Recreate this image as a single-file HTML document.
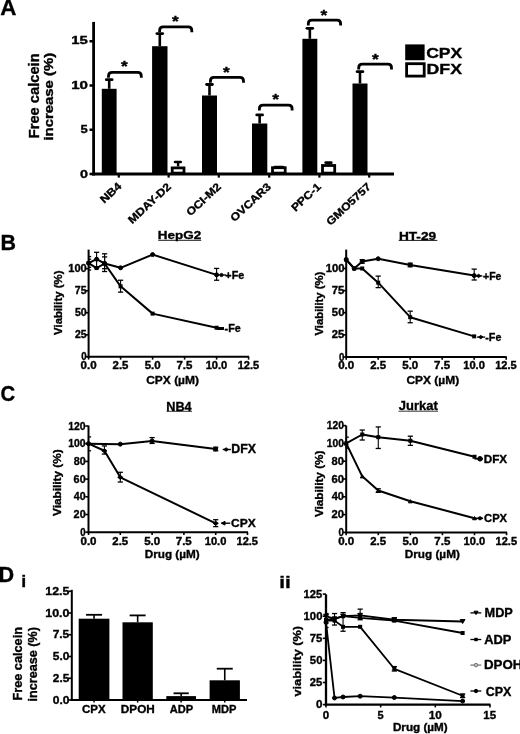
<!DOCTYPE html><html><head><meta charset="utf-8"><style>html,body{margin:0;padding:0;background:#fff;overflow:hidden}svg{display:block;will-change:transform}text{font-family:"Liberation Sans",sans-serif;font-weight:bold;fill:#000}</style></head><body><svg width="520" height="734" viewBox="0 0 520 734"><rect width="520" height="734" fill="#fff"/><g stroke="#000" fill="#000"><text stroke-width="0.35" transform="translate(0.14,14.50) scale(0.997,1)" font-size="22.46">A</text>
<line x1="93.60" y1="21.90" x2="93.60" y2="175.50" stroke-width="2.8" stroke-linecap="butt"/>
<line x1="92.20" y1="174.00" x2="394.00" y2="174.00" stroke-width="2.9" stroke-linecap="butt"/>
<line x1="89.50" y1="41.25" x2="93.00" y2="41.25" stroke-width="2.5" stroke-linecap="butt"/>
<line x1="89.50" y1="85.50" x2="93.00" y2="85.50" stroke-width="2.5" stroke-linecap="butt"/>
<line x1="89.50" y1="129.75" x2="93.00" y2="129.75" stroke-width="2.5" stroke-linecap="butt"/>
<line x1="89.50" y1="174.00" x2="93.00" y2="174.00" stroke-width="2.5" stroke-linecap="butt"/>
<text stroke-width="0.35" transform="translate(71.23,44.19) scale(1.355,1)" font-size="11.00">15</text>
<text stroke-width="0.35" transform="translate(71.22,88.50) scale(1.451,1)" font-size="10.42">10</text>
<text stroke-width="0.35" transform="translate(80.51,133.29) scale(1.167,1)" font-size="11.14">5</text>
<text stroke-width="0.35" transform="translate(80.03,177.98) scale(1.240,1)" font-size="11.55">0</text>
<text stroke-width="0.35" transform="translate(38.56,138.26) rotate(-90) scale(1.029,1)" font-size="14.29">Free calcein</text>
<text stroke-width="0.35" transform="translate(53.38,140.54) rotate(-90) scale(1.243,1)" font-size="11.98">increase (%)</text>
<line x1="118.80" y1="174.00" x2="118.80" y2="177.60" stroke-width="2.2" stroke-linecap="butt"/>
<line x1="168.60" y1="174.00" x2="168.60" y2="177.60" stroke-width="2.2" stroke-linecap="butt"/>
<line x1="218.80" y1="174.00" x2="218.80" y2="177.60" stroke-width="2.2" stroke-linecap="butt"/>
<line x1="269.20" y1="174.00" x2="269.20" y2="177.60" stroke-width="2.2" stroke-linecap="butt"/>
<line x1="319.40" y1="174.00" x2="319.40" y2="177.60" stroke-width="2.2" stroke-linecap="butt"/>
<line x1="369.20" y1="174.00" x2="369.20" y2="177.60" stroke-width="2.2" stroke-linecap="butt"/>
<rect x="101.80" y="88.80" width="14.80" height="85.20" fill="#000" stroke="none"/>
<line x1="109.20" y1="88.80" x2="109.20" y2="79.70" stroke-width="2.6" stroke-linecap="butt"/>
<line x1="106.30" y1="79.70" x2="112.10" y2="79.70" stroke-width="2.8" stroke-linecap="round"/>
<rect x="152.10" y="46.20" width="15.40" height="127.80" fill="#000" stroke="none"/>
<line x1="159.80" y1="46.20" x2="159.80" y2="33.60" stroke-width="2.6" stroke-linecap="butt"/>
<line x1="156.90" y1="33.60" x2="162.70" y2="33.60" stroke-width="2.8" stroke-linecap="round"/>
<rect x="202.00" y="95.50" width="15.00" height="78.50" fill="#000" stroke="none"/>
<line x1="209.50" y1="95.50" x2="209.50" y2="84.50" stroke-width="2.6" stroke-linecap="butt"/>
<line x1="206.60" y1="84.50" x2="212.40" y2="84.50" stroke-width="2.8" stroke-linecap="round"/>
<rect x="252.00" y="123.50" width="15.30" height="50.50" fill="#000" stroke="none"/>
<line x1="259.65" y1="123.50" x2="259.65" y2="114.90" stroke-width="2.6" stroke-linecap="butt"/>
<line x1="256.75" y1="114.90" x2="262.55" y2="114.90" stroke-width="2.8" stroke-linecap="round"/>
<rect x="302.40" y="38.80" width="14.90" height="135.20" fill="#000" stroke="none"/>
<line x1="309.85" y1="38.80" x2="309.85" y2="28.30" stroke-width="2.6" stroke-linecap="butt"/>
<line x1="306.95" y1="28.30" x2="312.75" y2="28.30" stroke-width="2.8" stroke-linecap="round"/>
<rect x="352.50" y="83.50" width="15.00" height="90.50" fill="#000" stroke="none"/>
<line x1="360.00" y1="83.50" x2="360.00" y2="71.70" stroke-width="2.6" stroke-linecap="butt"/>
<line x1="357.10" y1="71.70" x2="362.90" y2="71.70" stroke-width="2.8" stroke-linecap="round"/>
<rect x="172.20" y="167.90" width="11.80" height="5.20" fill="#fff" stroke="#000" stroke-width="2.8"/>
<line x1="178.10" y1="166.50" x2="178.10" y2="162.00" stroke-width="2.4" stroke-linecap="butt"/>
<line x1="175.10" y1="162.00" x2="180.70" y2="162.00" stroke-width="2.7" stroke-linecap="round"/>
<rect x="272.50" y="167.70" width="12.70" height="5.40" fill="#fff" stroke="#000" stroke-width="2.8"/>
<line x1="278.85" y1="166.30" x2="278.85" y2="167.20" stroke-width="2.4" stroke-linecap="butt"/>
<line x1="274.90" y1="167.20" x2="282.90" y2="167.20" stroke-width="2.7" stroke-linecap="round"/>
<rect x="322.50" y="165.50" width="12.20" height="7.60" fill="#fff" stroke="#000" stroke-width="2.8"/>
<line x1="328.60" y1="164.10" x2="328.60" y2="162.70" stroke-width="2.4" stroke-linecap="butt"/>
<line x1="325.70" y1="162.70" x2="331.30" y2="162.70" stroke-width="2.7" stroke-linecap="round"/>
<path d="M108.50,77.70 V75.90 Q108.50,72.30 112.10,72.30 H137.70 Q141.30,72.30 141.30,75.90 V77.70" fill="none" stroke-width="2.8"/>
<text stroke-width="0.35" transform="translate(120.91,71.38) scale(1.213,1)" font-size="14.32">*</text>
<path d="M159.60,32.20 V30.40 Q159.60,26.80 163.20,26.80 H188.20 Q191.80,26.80 191.80,30.40 V32.20" fill="none" stroke-width="2.8"/>
<text stroke-width="0.35" transform="translate(172.11,26.38) scale(1.213,1)" font-size="14.32">*</text>
<path d="M210.40,82.70 V80.90 Q210.40,77.30 214.00,77.30 H239.90 Q243.50,77.30 243.50,80.90 V82.70" fill="none" stroke-width="2.8"/>
<text stroke-width="0.35" transform="translate(223.11,77.28) scale(1.213,1)" font-size="14.32">*</text>
<path d="M259.40,110.50 V108.70 Q259.40,105.10 263.00,105.10 H288.50 Q292.10,105.10 292.10,108.70 V110.50" fill="none" stroke-width="2.8"/>
<text stroke-width="0.35" transform="translate(272.31,104.48) scale(1.213,1)" font-size="14.32">*</text>
<path d="M308.30,25.60 V23.80 Q308.30,20.20 311.90,20.20 H337.00 Q340.60,20.20 340.60,23.80 V25.60" fill="none" stroke-width="2.8"/>
<text stroke-width="0.35" transform="translate(320.41,19.98) scale(1.213,1)" font-size="14.32">*</text>
<path d="M358.70,69.60 V67.80 Q358.70,64.20 362.30,64.20 H387.90 Q391.50,64.20 391.50,67.80 V69.60" fill="none" stroke-width="2.8"/>
<text stroke-width="0.35" transform="translate(371.91,63.78) scale(1.213,1)" font-size="14.32">*</text>
<rect x="405.20" y="44.40" width="19.40" height="15.80" fill="#000" stroke="none"/>
<rect x="406.60" y="63.70" width="17.60" height="12.40" fill="#fff" stroke="#000" stroke-width="2.8"/>
<text stroke-width="0.35" transform="translate(426.20,57.60) scale(1.249,1)" font-size="14.06">CPX</text>
<text stroke-width="0.35" transform="translate(426.55,74.20) scale(1.273,1)" font-size="13.91">DFX</text>
<text stroke-width="0.35" transform="translate(122.20,187.00) rotate(-43) scale(1.120,1)" font-size="10.90" text-anchor="end">NB4</text>
<text stroke-width="0.35" transform="translate(171.70,187.50) rotate(-43) scale(1.120,1)" font-size="10.90" text-anchor="end">MDAY-D2</text>
<text stroke-width="0.35" transform="translate(221.70,187.50) rotate(-43) scale(1.120,1)" font-size="10.90" text-anchor="end">OCI-M2</text>
<text stroke-width="0.35" transform="translate(271.70,187.50) rotate(-43) scale(1.120,1)" font-size="10.90" text-anchor="end">OVCAR3</text>
<text stroke-width="0.35" transform="translate(321.70,187.50) rotate(-43) scale(1.120,1)" font-size="10.90" text-anchor="end">PPC-1</text>
<text stroke-width="0.35" transform="translate(371.70,187.50) rotate(-43) scale(1.120,1)" font-size="10.90" text-anchor="end">GMO5757</text>
<text stroke-width="0.35" transform="translate(0.60,249.80) scale(0.981,1)" font-size="21.88">B</text>
<line x1="88.60" y1="249.60" x2="88.60" y2="357.80" stroke-width="2.0" stroke-linecap="butt"/>
<line x1="87.60" y1="356.80" x2="249.10" y2="356.80" stroke-width="2.0" stroke-linecap="butt"/>
<line x1="85.40" y1="356.80" x2="88.60" y2="356.80" stroke-width="1.6" stroke-linecap="butt"/>
<line x1="85.40" y1="334.78" x2="88.60" y2="334.78" stroke-width="1.6" stroke-linecap="butt"/>
<line x1="85.40" y1="312.75" x2="88.60" y2="312.75" stroke-width="1.6" stroke-linecap="butt"/>
<line x1="85.40" y1="290.73" x2="88.60" y2="290.73" stroke-width="1.6" stroke-linecap="butt"/>
<line x1="85.40" y1="268.70" x2="88.60" y2="268.70" stroke-width="1.6" stroke-linecap="butt"/>
<line x1="88.60" y1="356.80" x2="88.60" y2="359.60" stroke-width="1.6" stroke-linecap="butt"/>
<line x1="120.60" y1="356.80" x2="120.60" y2="359.60" stroke-width="1.6" stroke-linecap="butt"/>
<line x1="152.60" y1="356.80" x2="152.60" y2="359.60" stroke-width="1.6" stroke-linecap="butt"/>
<line x1="184.60" y1="356.80" x2="184.60" y2="359.60" stroke-width="1.6" stroke-linecap="butt"/>
<line x1="216.60" y1="356.80" x2="216.60" y2="359.60" stroke-width="1.6" stroke-linecap="butt"/>
<line x1="248.60" y1="356.80" x2="248.60" y2="359.60" stroke-width="1.6" stroke-linecap="butt"/>
<polyline points="88.60,263.06 96.60,259.19 104.60,263.50 120.60,267.82 152.60,254.60 216.60,274.87" fill="none" stroke-width="2.0" stroke-linejoin="round"/>
<circle cx="88.60" cy="263.06" r="2.00"/>
<circle cx="96.60" cy="259.19" r="2.00"/>
<circle cx="104.60" cy="263.50" r="2.00"/>
<circle cx="120.60" cy="267.82" r="2.00"/>
<circle cx="152.60" cy="254.60" r="2.00"/>
<circle cx="216.60" cy="274.87" r="2.00"/>
<polyline points="88.60,263.06 96.60,268.08 104.60,263.50 120.60,286.32 152.60,313.63 216.60,327.73" fill="none" stroke-width="2.0" stroke-linejoin="round"/>
<rect x="86.60" y="261.06" width="4.00" height="4.00" fill="#000" stroke="none"/>
<rect x="94.60" y="266.08" width="4.00" height="4.00" fill="#000" stroke="none"/>
<rect x="102.60" y="261.50" width="4.00" height="4.00" fill="#000" stroke="none"/>
<rect x="118.60" y="284.32" width="4.00" height="4.00" fill="#000" stroke="none"/>
<rect x="150.60" y="311.63" width="4.00" height="4.00" fill="#000" stroke="none"/>
<rect x="214.60" y="325.73" width="4.00" height="4.00" fill="#000" stroke="none"/>
<line x1="88.60" y1="256.54" x2="88.60" y2="270.02" stroke-width="1.1" stroke-linecap="butt"/>
<line x1="88.60" y1="256.54" x2="91.20" y2="256.54" stroke-width="1.3" stroke-linecap="butt"/>
<line x1="88.60" y1="270.02" x2="91.20" y2="270.02" stroke-width="1.3" stroke-linecap="butt"/>
<line x1="88.60" y1="259.19" x2="88.60" y2="267.29" stroke-width="1.1" stroke-linecap="butt"/>
<line x1="88.60" y1="259.19" x2="91.20" y2="259.19" stroke-width="1.3" stroke-linecap="butt"/>
<line x1="88.60" y1="267.29" x2="91.20" y2="267.29" stroke-width="1.3" stroke-linecap="butt"/>
<line x1="96.60" y1="252.31" x2="96.60" y2="268.00" stroke-width="1.1" stroke-linecap="butt"/>
<line x1="94.00" y1="252.31" x2="99.20" y2="252.31" stroke-width="1.3" stroke-linecap="butt"/>
<line x1="94.00" y1="268.00" x2="99.20" y2="268.00" stroke-width="1.3" stroke-linecap="butt"/>
<line x1="104.60" y1="253.81" x2="104.60" y2="271.52" stroke-width="1.1" stroke-linecap="butt"/>
<line x1="102.00" y1="253.81" x2="107.20" y2="253.81" stroke-width="1.3" stroke-linecap="butt"/>
<line x1="102.00" y1="271.52" x2="107.20" y2="271.52" stroke-width="1.3" stroke-linecap="butt"/>
<line x1="104.60" y1="256.89" x2="104.60" y2="268.70" stroke-width="1.1" stroke-linecap="butt"/>
<line x1="102.00" y1="256.89" x2="107.20" y2="256.89" stroke-width="1.3" stroke-linecap="butt"/>
<line x1="102.00" y1="268.70" x2="107.20" y2="268.70" stroke-width="1.3" stroke-linecap="butt"/>
<line x1="120.60" y1="280.24" x2="120.60" y2="292.13" stroke-width="1.1" stroke-linecap="butt"/>
<line x1="118.00" y1="280.24" x2="123.20" y2="280.24" stroke-width="1.3" stroke-linecap="butt"/>
<line x1="118.00" y1="292.13" x2="123.20" y2="292.13" stroke-width="1.3" stroke-linecap="butt"/>
<line x1="216.60" y1="268.44" x2="216.60" y2="280.24" stroke-width="1.1" stroke-linecap="butt"/>
<line x1="214.00" y1="268.44" x2="219.20" y2="268.44" stroke-width="1.3" stroke-linecap="butt"/>
<line x1="214.00" y1="280.24" x2="219.20" y2="280.24" stroke-width="1.3" stroke-linecap="butt"/>
<line x1="216.30" y1="275.00" x2="226.00" y2="275.00" stroke-width="1.3" stroke-linecap="butt"/>
<circle cx="221.50" cy="275.00" r="1.60"/>
<line x1="216.30" y1="328.50" x2="224.00" y2="328.50" stroke-width="1.6" stroke-linecap="butt"/>
<rect x="217.00" y="327.00" width="7.00" height="3.00" fill="#000" stroke="none"/>
<text stroke-width="0.35" transform="translate(225.37,278.90) scale(1.059,1)" font-size="10.14">+Fe</text>
<text stroke-width="0.35" transform="translate(224.57,332.40) scale(0.981,1)" font-size="11.01">-Fe</text>
<text stroke-width="0.35" transform="translate(157.82,239.40) scale(1.178,1)" font-size="11.45">HepG2</text>
<line x1="158.20" y1="240.30" x2="201.20" y2="240.30" stroke-width="0.9" stroke-linecap="butt"/>
<text stroke-width="0.35" transform="translate(61.96,334.91) rotate(-90) scale(1.026,1)" font-size="11.12">Viability (%)</text>
<text stroke-width="0.35" transform="translate(68.28,272.20) scale(1.093,1)" font-size="10.14">100</text>
<text stroke-width="0.35" transform="translate(74.82,294.23) scale(1.043,1)" font-size="10.14">75</text>
<text stroke-width="0.35" transform="translate(74.98,316.25) scale(1.043,1)" font-size="10.14">50</text>
<text stroke-width="0.35" transform="translate(74.93,338.28) scale(1.033,1)" font-size="10.14">25</text>
<text stroke-width="0.35" transform="translate(81.31,360.30) scale(0.955,1)" font-size="10.14">0</text>
<text stroke-width="0.35" transform="translate(80.54,369.20) scale(1.160,1)" font-size="10.00">0.0</text>
<text stroke-width="0.35" transform="translate(112.60,369.20) scale(1.143,1)" font-size="10.00">2.5</text>
<text stroke-width="0.35" transform="translate(144.65,369.20) scale(1.152,1)" font-size="10.00">5.0</text>
<text stroke-width="0.35" transform="translate(176.48,369.20) scale(1.152,1)" font-size="10.00">7.5</text>
<text stroke-width="0.35" transform="translate(205.63,369.20) scale(1.114,1)" font-size="10.00">10.0</text>
<text stroke-width="0.35" transform="translate(237.63,369.20) scale(1.105,1)" font-size="10.00">12.5</text>
<text stroke-width="0.35" transform="translate(146.22,383.80) scale(1.034,1)" font-size="11.59">CPX (µM)</text>
<line x1="346.20" y1="249.60" x2="346.20" y2="358.00" stroke-width="2.0" stroke-linecap="butt"/>
<line x1="345.20" y1="357.00" x2="506.70" y2="357.00" stroke-width="2.0" stroke-linecap="butt"/>
<line x1="343.00" y1="357.00" x2="346.20" y2="357.00" stroke-width="1.6" stroke-linecap="butt"/>
<line x1="343.00" y1="334.88" x2="346.20" y2="334.88" stroke-width="1.6" stroke-linecap="butt"/>
<line x1="343.00" y1="312.75" x2="346.20" y2="312.75" stroke-width="1.6" stroke-linecap="butt"/>
<line x1="343.00" y1="290.62" x2="346.20" y2="290.62" stroke-width="1.6" stroke-linecap="butt"/>
<line x1="343.00" y1="268.50" x2="346.20" y2="268.50" stroke-width="1.6" stroke-linecap="butt"/>
<line x1="346.20" y1="357.00" x2="346.20" y2="359.80" stroke-width="1.6" stroke-linecap="butt"/>
<line x1="378.20" y1="357.00" x2="378.20" y2="359.80" stroke-width="1.6" stroke-linecap="butt"/>
<line x1="410.20" y1="357.00" x2="410.20" y2="359.80" stroke-width="1.6" stroke-linecap="butt"/>
<line x1="442.20" y1="357.00" x2="442.20" y2="359.80" stroke-width="1.6" stroke-linecap="butt"/>
<line x1="474.20" y1="357.00" x2="474.20" y2="359.80" stroke-width="1.6" stroke-linecap="butt"/>
<line x1="506.20" y1="357.00" x2="506.20" y2="359.80" stroke-width="1.6" stroke-linecap="butt"/>
<polyline points="346.20,259.65 354.20,268.50 362.20,261.42 378.20,258.76 410.20,264.96 474.20,275.58" fill="none" stroke-width="2.0" stroke-linejoin="round"/>
<circle cx="346.20" cy="259.65" r="2.00"/>
<circle cx="354.20" cy="268.50" r="2.00"/>
<circle cx="362.20" cy="261.42" r="2.00"/>
<circle cx="378.20" cy="258.76" r="2.00"/>
<circle cx="410.20" cy="264.96" r="2.00"/>
<circle cx="474.20" cy="275.58" r="2.00"/>
<polyline points="346.20,259.65 354.20,268.50 362.20,268.50 378.20,282.66 410.20,317.18 474.20,336.38" fill="none" stroke-width="2.0" stroke-linejoin="round"/>
<rect x="344.20" y="257.65" width="4.00" height="4.00" fill="#000" stroke="none"/>
<rect x="352.20" y="266.50" width="4.00" height="4.00" fill="#000" stroke="none"/>
<rect x="360.20" y="266.50" width="4.00" height="4.00" fill="#000" stroke="none"/>
<rect x="376.20" y="280.66" width="4.00" height="4.00" fill="#000" stroke="none"/>
<rect x="408.20" y="315.18" width="4.00" height="4.00" fill="#000" stroke="none"/>
<rect x="472.20" y="334.38" width="4.00" height="4.00" fill="#000" stroke="none"/>
<line x1="378.20" y1="276.11" x2="378.20" y2="287.62" stroke-width="1.1" stroke-linecap="butt"/>
<line x1="375.60" y1="276.11" x2="380.80" y2="276.11" stroke-width="1.3" stroke-linecap="butt"/>
<line x1="375.60" y1="287.62" x2="380.80" y2="287.62" stroke-width="1.3" stroke-linecap="butt"/>
<line x1="410.20" y1="311.16" x2="410.20" y2="322.75" stroke-width="1.1" stroke-linecap="butt"/>
<line x1="407.60" y1="311.16" x2="412.80" y2="311.16" stroke-width="1.3" stroke-linecap="butt"/>
<line x1="407.60" y1="322.75" x2="412.80" y2="322.75" stroke-width="1.3" stroke-linecap="butt"/>
<line x1="474.20" y1="269.12" x2="474.20" y2="280.00" stroke-width="1.1" stroke-linecap="butt"/>
<line x1="471.60" y1="269.12" x2="476.80" y2="269.12" stroke-width="1.3" stroke-linecap="butt"/>
<line x1="471.60" y1="280.00" x2="476.80" y2="280.00" stroke-width="1.3" stroke-linecap="butt"/>
<line x1="410.20" y1="263.19" x2="410.20" y2="266.73" stroke-width="1.1" stroke-linecap="butt"/>
<line x1="407.60" y1="263.19" x2="412.80" y2="263.19" stroke-width="1.3" stroke-linecap="butt"/>
<line x1="407.60" y1="266.73" x2="412.80" y2="266.73" stroke-width="1.3" stroke-linecap="butt"/>
<line x1="362.20" y1="259.65" x2="362.20" y2="263.19" stroke-width="1.1" stroke-linecap="butt"/>
<line x1="359.60" y1="259.65" x2="364.80" y2="259.65" stroke-width="1.3" stroke-linecap="butt"/>
<line x1="359.60" y1="263.19" x2="364.80" y2="263.19" stroke-width="1.3" stroke-linecap="butt"/>
<line x1="474.20" y1="275.90" x2="482.40" y2="275.90" stroke-width="1.3" stroke-linecap="butt"/>
<path d="M476.39,275.90 L478.60,274.20 L480.81,275.90 L478.60,277.60Z"/>
<line x1="477.00" y1="337.10" x2="485.20" y2="337.10" stroke-width="1.3" stroke-linecap="butt"/>
<path d="M478.59,337.10 L480.80,335.40 L483.01,337.10 L480.80,338.80Z"/>
<text stroke-width="0.35" transform="translate(483.08,279.70) scale(1.045,1)" font-size="10.00">+Fe</text>
<text stroke-width="0.35" transform="translate(485.27,340.70) scale(0.975,1)" font-size="11.01">-Fe</text>
<text stroke-width="0.35" transform="translate(398.91,239.80) scale(1.241,1)" font-size="11.01">HT-29</text>
<line x1="398.70" y1="240.40" x2="437.30" y2="240.40" stroke-width="0.9" stroke-linecap="butt"/>
<text stroke-width="0.35" transform="translate(323.09,335.51) rotate(-90) scale(1.026,1)" font-size="11.02">Viability (%)</text>
<text stroke-width="0.35" transform="translate(325.67,272.00) scale(1.112,1)" font-size="10.14">100</text>
<text stroke-width="0.35" transform="translate(331.69,294.12) scale(1.118,1)" font-size="10.14">75</text>
<text stroke-width="0.35" transform="translate(331.86,316.25) scale(1.118,1)" font-size="10.14">50</text>
<text stroke-width="0.35" transform="translate(331.81,338.38) scale(1.108,1)" font-size="10.14">25</text>
<text stroke-width="0.35" transform="translate(339.01,360.50) scale(0.955,1)" font-size="10.14">0</text>
<text stroke-width="0.35" transform="translate(338.14,369.20) scale(1.160,1)" font-size="10.00">0.0</text>
<text stroke-width="0.35" transform="translate(370.20,369.20) scale(1.143,1)" font-size="10.00">2.5</text>
<text stroke-width="0.35" transform="translate(402.25,369.20) scale(1.152,1)" font-size="10.00">5.0</text>
<text stroke-width="0.35" transform="translate(434.08,369.20) scale(1.152,1)" font-size="10.00">7.5</text>
<text stroke-width="0.35" transform="translate(463.23,369.20) scale(1.114,1)" font-size="10.00">10.0</text>
<text stroke-width="0.35" transform="translate(495.23,369.20) scale(1.105,1)" font-size="10.00">12.5</text>
<text stroke-width="0.35" transform="translate(406.42,383.90) scale(1.032,1)" font-size="11.59">CPX (µM)</text>
<text stroke-width="0.35" transform="translate(0.59,400.58) scale(0.907,1)" font-size="22.39">C</text>
<line x1="88.50" y1="425.60" x2="88.50" y2="533.20" stroke-width="2.0" stroke-linecap="butt"/>
<line x1="87.50" y1="532.20" x2="248.00" y2="532.20" stroke-width="2.0" stroke-linecap="butt"/>
<line x1="85.30" y1="532.20" x2="88.50" y2="532.20" stroke-width="1.6" stroke-linecap="butt"/>
<line x1="85.30" y1="514.50" x2="88.50" y2="514.50" stroke-width="1.6" stroke-linecap="butt"/>
<line x1="85.30" y1="496.80" x2="88.50" y2="496.80" stroke-width="1.6" stroke-linecap="butt"/>
<line x1="85.30" y1="479.10" x2="88.50" y2="479.10" stroke-width="1.6" stroke-linecap="butt"/>
<line x1="85.30" y1="461.40" x2="88.50" y2="461.40" stroke-width="1.6" stroke-linecap="butt"/>
<line x1="85.30" y1="443.70" x2="88.50" y2="443.70" stroke-width="1.6" stroke-linecap="butt"/>
<line x1="85.30" y1="426.00" x2="88.50" y2="426.00" stroke-width="1.6" stroke-linecap="butt"/>
<line x1="88.50" y1="532.20" x2="88.50" y2="535.00" stroke-width="1.6" stroke-linecap="butt"/>
<line x1="120.30" y1="532.20" x2="120.30" y2="535.00" stroke-width="1.6" stroke-linecap="butt"/>
<line x1="152.10" y1="532.20" x2="152.10" y2="535.00" stroke-width="1.6" stroke-linecap="butt"/>
<line x1="183.90" y1="532.20" x2="183.90" y2="535.00" stroke-width="1.6" stroke-linecap="butt"/>
<line x1="215.70" y1="532.20" x2="215.70" y2="535.00" stroke-width="1.6" stroke-linecap="butt"/>
<line x1="247.50" y1="532.20" x2="247.50" y2="535.00" stroke-width="1.6" stroke-linecap="butt"/>
<polyline points="88.50,443.70 120.30,444.14 152.10,441.05 215.70,449.01" fill="none" stroke-width="2.0" stroke-linejoin="round"/>
<circle cx="88.50" cy="443.70" r="2.00"/>
<circle cx="120.30" cy="444.14" r="2.00"/>
<circle cx="152.10" cy="441.05" r="2.00"/>
<circle cx="215.70" cy="449.01" r="2.00"/>
<polyline points="88.50,443.70 104.40,450.78 120.30,477.33 215.70,523.35" fill="none" stroke-width="2.0" stroke-linejoin="round"/>
<path d="M85.90,443.70 L88.50,441.70 L91.10,443.70 L88.50,445.70Z"/>
<path d="M101.80,450.78 L104.40,448.78 L107.00,450.78 L104.40,452.78Z"/>
<path d="M117.70,477.33 L120.30,475.33 L122.90,477.33 L120.30,479.33Z"/>
<path d="M213.10,523.35 L215.70,521.35 L218.30,523.35 L215.70,525.35Z"/>
<line x1="88.50" y1="436.89" x2="88.50" y2="450.78" stroke-width="1.1" stroke-linecap="butt"/>
<line x1="88.50" y1="436.89" x2="91.10" y2="436.89" stroke-width="1.3" stroke-linecap="butt"/>
<line x1="88.50" y1="450.78" x2="91.10" y2="450.78" stroke-width="1.3" stroke-linecap="butt"/>
<line x1="104.40" y1="445.91" x2="104.40" y2="454.05" stroke-width="1.1" stroke-linecap="butt"/>
<line x1="101.80" y1="445.91" x2="107.00" y2="445.91" stroke-width="1.3" stroke-linecap="butt"/>
<line x1="101.80" y1="454.05" x2="107.00" y2="454.05" stroke-width="1.3" stroke-linecap="butt"/>
<line x1="120.30" y1="472.29" x2="120.30" y2="482.02" stroke-width="1.1" stroke-linecap="butt"/>
<line x1="117.70" y1="472.29" x2="122.90" y2="472.29" stroke-width="1.3" stroke-linecap="butt"/>
<line x1="117.70" y1="482.02" x2="122.90" y2="482.02" stroke-width="1.3" stroke-linecap="butt"/>
<line x1="152.10" y1="437.59" x2="152.10" y2="443.43" stroke-width="1.1" stroke-linecap="butt"/>
<line x1="149.50" y1="437.59" x2="154.70" y2="437.59" stroke-width="1.3" stroke-linecap="butt"/>
<line x1="149.50" y1="443.43" x2="154.70" y2="443.43" stroke-width="1.3" stroke-linecap="butt"/>
<line x1="215.70" y1="519.72" x2="215.70" y2="526.62" stroke-width="1.1" stroke-linecap="butt"/>
<line x1="213.10" y1="519.72" x2="218.30" y2="519.72" stroke-width="1.3" stroke-linecap="butt"/>
<line x1="213.10" y1="526.62" x2="218.30" y2="526.62" stroke-width="1.3" stroke-linecap="butt"/>
<line x1="215.70" y1="447.24" x2="215.70" y2="450.78" stroke-width="1.1" stroke-linecap="butt"/>
<line x1="213.10" y1="447.24" x2="218.30" y2="447.24" stroke-width="1.3" stroke-linecap="butt"/>
<line x1="213.10" y1="450.78" x2="218.30" y2="450.78" stroke-width="1.3" stroke-linecap="butt"/>
<line x1="222.70" y1="449.50" x2="230.90" y2="449.50" stroke-width="1.4" stroke-linecap="butt"/>
<path d="M223.89,449.50 L226.10,447.80 L228.31,449.50 L226.10,451.20Z"/>
<line x1="221.30" y1="523.20" x2="230.20" y2="523.20" stroke-width="1.4" stroke-linecap="butt"/>
<path d="M221.3,523.2 L225,521.3 L225,525.1Z"/>
<text stroke-width="0.35" transform="translate(231.29,452.80) scale(1.032,1)" font-size="12.03">DFX</text>
<text stroke-width="0.35" transform="translate(231.02,527.30) scale(1.037,1)" font-size="11.59">CPX</text>
<text stroke-width="0.35" transform="translate(166.27,410.80) scale(0.932,1)" font-size="13.62">NB4</text>
<line x1="166.60" y1="411.30" x2="192.00" y2="411.30" stroke-width="0.8" stroke-linecap="butt"/>
<text stroke-width="0.35" transform="translate(61.40,515.92) rotate(-90) scale(1.126,1)" font-size="10.48">Viability (%)</text>
<text stroke-width="0.35" transform="translate(80.21,535.80) scale(0.928,1)" font-size="10.43">0</text>
<text stroke-width="0.35" transform="translate(73.62,518.10) scale(1.037,1)" font-size="10.43">20</text>
<text stroke-width="0.35" transform="translate(73.84,500.40) scale(1.017,1)" font-size="10.43">40</text>
<text stroke-width="0.35" transform="translate(73.62,482.70) scale(1.037,1)" font-size="10.43">60</text>
<text stroke-width="0.35" transform="translate(73.68,465.00) scale(1.032,1)" font-size="10.43">80</text>
<text stroke-width="0.35" transform="translate(68.22,447.30) scale(1.001,1)" font-size="10.43">100</text>
<text stroke-width="0.35" transform="translate(68.22,429.60) scale(1.001,1)" font-size="10.43">120</text>
<text stroke-width="0.35" transform="translate(80.44,544.60) scale(1.160,1)" font-size="10.00">0.0</text>
<text stroke-width="0.35" transform="translate(112.30,544.60) scale(1.143,1)" font-size="10.00">2.5</text>
<text stroke-width="0.35" transform="translate(144.15,544.60) scale(1.152,1)" font-size="10.00">5.0</text>
<text stroke-width="0.35" transform="translate(175.78,544.60) scale(1.152,1)" font-size="10.00">7.5</text>
<text stroke-width="0.35" transform="translate(204.73,544.60) scale(1.114,1)" font-size="10.00">10.0</text>
<text stroke-width="0.35" transform="translate(236.53,544.60) scale(1.105,1)" font-size="10.00">12.5</text>
<text stroke-width="0.35" transform="translate(144.64,558.20) scale(1.002,1)" font-size="11.74">Drug (µM)</text>
<line x1="346.20" y1="425.60" x2="346.20" y2="533.40" stroke-width="2.0" stroke-linecap="butt"/>
<line x1="345.20" y1="532.40" x2="507.07" y2="532.40" stroke-width="2.0" stroke-linecap="butt"/>
<line x1="343.00" y1="532.40" x2="346.20" y2="532.40" stroke-width="1.6" stroke-linecap="butt"/>
<line x1="343.00" y1="514.60" x2="346.20" y2="514.60" stroke-width="1.6" stroke-linecap="butt"/>
<line x1="343.00" y1="496.80" x2="346.20" y2="496.80" stroke-width="1.6" stroke-linecap="butt"/>
<line x1="343.00" y1="479.00" x2="346.20" y2="479.00" stroke-width="1.6" stroke-linecap="butt"/>
<line x1="343.00" y1="461.20" x2="346.20" y2="461.20" stroke-width="1.6" stroke-linecap="butt"/>
<line x1="343.00" y1="443.40" x2="346.20" y2="443.40" stroke-width="1.6" stroke-linecap="butt"/>
<line x1="343.00" y1="425.60" x2="346.20" y2="425.60" stroke-width="1.6" stroke-linecap="butt"/>
<line x1="346.20" y1="532.40" x2="346.20" y2="535.20" stroke-width="1.6" stroke-linecap="butt"/>
<line x1="378.27" y1="532.40" x2="378.27" y2="535.20" stroke-width="1.6" stroke-linecap="butt"/>
<line x1="410.35" y1="532.40" x2="410.35" y2="535.20" stroke-width="1.6" stroke-linecap="butt"/>
<line x1="442.42" y1="532.40" x2="442.42" y2="535.20" stroke-width="1.6" stroke-linecap="butt"/>
<line x1="474.50" y1="532.40" x2="474.50" y2="535.20" stroke-width="1.6" stroke-linecap="butt"/>
<line x1="506.57" y1="532.40" x2="506.57" y2="535.20" stroke-width="1.6" stroke-linecap="butt"/>
<polyline points="346.20,443.40 362.24,434.50 378.27,437.17 410.35,440.73 474.50,456.75" fill="none" stroke-width="2.0" stroke-linejoin="round"/>
<rect x="344.20" y="441.40" width="4.00" height="4.00" fill="#000" stroke="none"/>
<rect x="360.24" y="432.50" width="4.00" height="4.00" fill="#000" stroke="none"/>
<rect x="376.27" y="435.17" width="4.00" height="4.00" fill="#000" stroke="none"/>
<rect x="408.35" y="438.73" width="4.00" height="4.00" fill="#000" stroke="none"/>
<rect x="472.50" y="454.75" width="4.00" height="4.00" fill="#000" stroke="none"/>
<polyline points="346.20,443.40 362.24,476.33 378.27,490.57 410.35,501.25 474.50,518.16" fill="none" stroke-width="2.0" stroke-linejoin="round"/>
<path d="M344.28,445.00 L348.12,445.00 L346.20,441.80Z"/>
<path d="M360.32,477.93 L364.16,477.93 L362.24,474.73Z"/>
<path d="M376.35,492.17 L380.19,492.17 L378.27,488.97Z"/>
<path d="M408.43,502.85 L412.27,502.85 L410.35,499.65Z"/>
<path d="M472.58,519.76 L476.42,519.76 L474.50,516.56Z"/>
<line x1="346.20" y1="437.17" x2="346.20" y2="448.21" stroke-width="1.1" stroke-linecap="butt"/>
<line x1="346.20" y1="437.17" x2="348.80" y2="437.17" stroke-width="1.3" stroke-linecap="butt"/>
<line x1="346.20" y1="448.21" x2="348.80" y2="448.21" stroke-width="1.3" stroke-linecap="butt"/>
<line x1="362.24" y1="430.05" x2="362.24" y2="440.02" stroke-width="1.1" stroke-linecap="butt"/>
<line x1="359.64" y1="430.05" x2="364.84" y2="430.05" stroke-width="1.3" stroke-linecap="butt"/>
<line x1="359.64" y1="440.02" x2="364.84" y2="440.02" stroke-width="1.3" stroke-linecap="butt"/>
<line x1="378.27" y1="426.93" x2="378.27" y2="448.47" stroke-width="1.1" stroke-linecap="butt"/>
<line x1="375.67" y1="426.93" x2="380.88" y2="426.93" stroke-width="1.3" stroke-linecap="butt"/>
<line x1="375.67" y1="448.47" x2="380.88" y2="448.47" stroke-width="1.3" stroke-linecap="butt"/>
<line x1="410.35" y1="436.19" x2="410.35" y2="445.36" stroke-width="1.1" stroke-linecap="butt"/>
<line x1="407.75" y1="436.19" x2="412.95" y2="436.19" stroke-width="1.3" stroke-linecap="butt"/>
<line x1="407.75" y1="445.36" x2="412.95" y2="445.36" stroke-width="1.3" stroke-linecap="butt"/>
<line x1="378.27" y1="488.79" x2="378.27" y2="492.35" stroke-width="1.1" stroke-linecap="butt"/>
<line x1="375.67" y1="488.79" x2="380.88" y2="488.79" stroke-width="1.3" stroke-linecap="butt"/>
<line x1="375.67" y1="492.35" x2="380.88" y2="492.35" stroke-width="1.3" stroke-linecap="butt"/>
<line x1="474.50" y1="458.80" x2="483.00" y2="458.80" stroke-width="1.6" stroke-linecap="butt"/>
<circle cx="480.00" cy="458.80" r="2.30"/>
<line x1="474.50" y1="518.30" x2="483.00" y2="518.30" stroke-width="1.6" stroke-linecap="butt"/>
<circle cx="480.00" cy="518.30" r="1.60"/>
<text stroke-width="0.35" transform="translate(483.74,463.00) scale(1.075,1)" font-size="10.87">DFX</text>
<text stroke-width="0.35" transform="translate(484.05,522.00) scale(1.046,1)" font-size="10.72">CPX</text>
<text stroke-width="0.35" transform="translate(398.81,410.37) scale(1.004,1)" font-size="12.93">Jurkat</text>
<line x1="398.50" y1="411.20" x2="438.00" y2="411.20" stroke-width="0.8" stroke-linecap="butt"/>
<text stroke-width="0.35" transform="translate(322.99,517.12) rotate(-90) scale(1.072,1)" font-size="11.02">Viability (%)</text>
<text stroke-width="0.35" transform="translate(338.51,536.00) scale(0.928,1)" font-size="10.43">0</text>
<text stroke-width="0.35" transform="translate(331.51,518.20) scale(1.074,1)" font-size="10.43">20</text>
<text stroke-width="0.35" transform="translate(331.74,500.40) scale(1.054,1)" font-size="10.43">40</text>
<text stroke-width="0.35" transform="translate(331.51,482.60) scale(1.074,1)" font-size="10.43">60</text>
<text stroke-width="0.35" transform="translate(331.57,464.80) scale(1.069,1)" font-size="10.43">80</text>
<text stroke-width="0.35" transform="translate(326.83,447.00) scale(0.983,1)" font-size="10.43">100</text>
<text stroke-width="0.35" transform="translate(326.83,429.20) scale(0.983,1)" font-size="10.43">120</text>
<text stroke-width="0.35" transform="translate(338.14,544.60) scale(1.160,1)" font-size="10.00">0.0</text>
<text stroke-width="0.35" transform="translate(370.27,544.60) scale(1.143,1)" font-size="10.00">2.5</text>
<text stroke-width="0.35" transform="translate(402.40,544.60) scale(1.152,1)" font-size="10.00">5.0</text>
<text stroke-width="0.35" transform="translate(434.31,544.60) scale(1.152,1)" font-size="10.00">7.5</text>
<text stroke-width="0.35" transform="translate(463.53,544.60) scale(1.114,1)" font-size="10.00">10.0</text>
<text stroke-width="0.35" transform="translate(495.61,544.60) scale(1.105,1)" font-size="10.00">12.5</text>
<text stroke-width="0.35" transform="translate(404.74,558.20) scale(1.002,1)" font-size="11.74">Drug (µM)</text>
<text stroke-width="0.35" transform="translate(-1.41,581.90) scale(1.015,1)" font-size="21.30">D</text>
<text stroke-width="0.35" transform="translate(21.36,587.40) scale(1.039,1)" font-size="17.10">i</text>
<line x1="71.80" y1="589.80" x2="71.80" y2="701.00" stroke-width="2" stroke-linecap="butt"/>
<line x1="70.80" y1="700.00" x2="247.00" y2="700.00" stroke-width="2" stroke-linecap="butt"/>
<line x1="68.50" y1="700.00" x2="71.80" y2="700.00" stroke-width="1.6" stroke-linecap="butt"/>
<text stroke-width="0.35" transform="translate(52.72,703.70) scale(1.125,1)" font-size="10.72">0.0</text>
<line x1="68.50" y1="678.25" x2="71.80" y2="678.25" stroke-width="1.6" stroke-linecap="butt"/>
<text stroke-width="0.35" transform="translate(52.78,681.95) scale(1.108,1)" font-size="10.72">2.5</text>
<line x1="68.50" y1="656.50" x2="71.80" y2="656.50" stroke-width="1.6" stroke-linecap="butt"/>
<text stroke-width="0.35" transform="translate(52.84,660.20) scale(1.116,1)" font-size="10.72">5.0</text>
<line x1="68.50" y1="634.75" x2="71.80" y2="634.75" stroke-width="1.6" stroke-linecap="butt"/>
<text stroke-width="0.35" transform="translate(52.66,638.45) scale(1.116,1)" font-size="10.72">7.5</text>
<line x1="68.50" y1="613.00" x2="71.80" y2="613.00" stroke-width="1.6" stroke-linecap="butt"/>
<text stroke-width="0.35" transform="translate(45.29,616.70) scale(1.160,1)" font-size="10.72">10.0</text>
<line x1="68.50" y1="591.25" x2="71.80" y2="591.25" stroke-width="1.6" stroke-linecap="butt"/>
<text stroke-width="0.35" transform="translate(45.30,594.95) scale(1.151,1)" font-size="10.72">12.5</text>
<rect x="78.70" y="618.70" width="30.70" height="81.30" fill="#000" stroke="none"/>
<line x1="94.05" y1="700.00" x2="94.05" y2="702.60" stroke-width="1.5" stroke-linecap="butt"/>
<line x1="94.05" y1="618.70" x2="94.05" y2="614.80" stroke-width="1.6" stroke-linecap="butt"/>
<line x1="86.05" y1="614.80" x2="102.05" y2="614.80" stroke-width="1.8" stroke-linecap="butt"/>
<rect x="122.50" y="622.30" width="30.30" height="77.70" fill="#000" stroke="none"/>
<line x1="137.65" y1="700.00" x2="137.65" y2="702.60" stroke-width="1.5" stroke-linecap="butt"/>
<line x1="137.65" y1="622.30" x2="137.65" y2="615.40" stroke-width="1.6" stroke-linecap="butt"/>
<line x1="129.65" y1="615.40" x2="145.65" y2="615.40" stroke-width="1.8" stroke-linecap="butt"/>
<rect x="166.30" y="696.10" width="29.70" height="3.90" fill="#000" stroke="none"/>
<line x1="181.15" y1="700.00" x2="181.15" y2="702.60" stroke-width="1.5" stroke-linecap="butt"/>
<line x1="181.15" y1="696.10" x2="181.15" y2="693.30" stroke-width="1.6" stroke-linecap="butt"/>
<line x1="173.55" y1="693.30" x2="188.75" y2="693.30" stroke-width="1.8" stroke-linecap="butt"/>
<rect x="209.60" y="680.30" width="30.30" height="19.70" fill="#000" stroke="none"/>
<line x1="224.75" y1="700.00" x2="224.75" y2="702.60" stroke-width="1.5" stroke-linecap="butt"/>
<line x1="224.75" y1="680.30" x2="224.75" y2="668.70" stroke-width="1.6" stroke-linecap="butt"/>
<line x1="216.75" y1="668.70" x2="232.75" y2="668.70" stroke-width="1.8" stroke-linecap="butt"/>
<text stroke-width="0.35" transform="translate(82.04,712.60) scale(1.019,1)" font-size="11.30">CPX</text>
<text stroke-width="0.35" transform="translate(120.84,712.60) scale(1.040,1)" font-size="11.30">DPOH</text>
<text stroke-width="0.35" transform="translate(169.82,712.60) scale(0.981,1)" font-size="11.30">ADP</text>
<text stroke-width="0.35" transform="translate(211.78,712.60) scale(0.982,1)" font-size="11.30">MDP</text>
<text stroke-width="0.35" transform="translate(22.37,700.53) rotate(-90) scale(0.955,1)" font-size="13.33">Free calcein</text>
<text stroke-width="0.35" transform="translate(36.69,701.38) rotate(-90) scale(1.016,1)" font-size="12.41">increase (%)</text>
<text stroke-width="0.35" transform="translate(279.15,588.30) scale(1.202,1)" font-size="17.24">ii</text>
<line x1="326.00" y1="594.30" x2="326.00" y2="705.75" stroke-width="2.3" stroke-linecap="butt"/>
<line x1="324.85" y1="704.60" x2="490.45" y2="704.60" stroke-width="2.3" stroke-linecap="butt"/>
<line x1="322.80" y1="704.60" x2="326.00" y2="704.60" stroke-width="1.6" stroke-linecap="butt"/>
<line x1="322.80" y1="682.50" x2="326.00" y2="682.50" stroke-width="1.6" stroke-linecap="butt"/>
<line x1="322.80" y1="660.40" x2="326.00" y2="660.40" stroke-width="1.6" stroke-linecap="butt"/>
<line x1="322.80" y1="638.30" x2="326.00" y2="638.30" stroke-width="1.6" stroke-linecap="butt"/>
<line x1="322.80" y1="616.20" x2="326.00" y2="616.20" stroke-width="1.6" stroke-linecap="butt"/>
<line x1="322.80" y1="594.10" x2="326.00" y2="594.10" stroke-width="1.6" stroke-linecap="butt"/>
<line x1="326.00" y1="704.60" x2="326.00" y2="707.40" stroke-width="1.6" stroke-linecap="butt"/>
<line x1="380.65" y1="704.60" x2="380.65" y2="707.40" stroke-width="1.6" stroke-linecap="butt"/>
<line x1="435.30" y1="704.60" x2="435.30" y2="707.40" stroke-width="1.6" stroke-linecap="butt"/>
<line x1="489.95" y1="704.60" x2="489.95" y2="707.40" stroke-width="1.6" stroke-linecap="butt"/>
<polyline points="326.00,616.20 334.53,618.85 343.05,616.20 360.16,615.32 394.31,619.74 462.62,621.50" fill="none" stroke-width="1.8" stroke-linejoin="round"/>
<path d="M323.60,614.20 L328.40,614.20 L326.00,618.20Z"/>
<path d="M332.13,616.85 L336.93,616.85 L334.53,620.85Z"/>
<path d="M340.65,614.20 L345.45,614.20 L343.05,618.20Z"/>
<path d="M357.76,613.32 L362.56,613.32 L360.16,617.32Z"/>
<path d="M391.91,617.74 L396.71,617.74 L394.31,621.74Z"/>
<path d="M460.23,619.50 L465.02,619.50 L462.62,623.50Z"/>
<polyline points="326.00,619.74 334.53,618.85 343.05,616.20 360.16,617.97 394.31,620.62 462.62,633.00" fill="none" stroke-width="1.8" stroke-linejoin="round"/>
<rect x="324.00" y="617.74" width="4.00" height="4.00" fill="#000" stroke="none"/>
<rect x="332.53" y="616.85" width="4.00" height="4.00" fill="#000" stroke="none"/>
<rect x="341.05" y="614.20" width="4.00" height="4.00" fill="#000" stroke="none"/>
<rect x="358.16" y="615.97" width="4.00" height="4.00" fill="#000" stroke="none"/>
<rect x="392.31" y="618.62" width="4.00" height="4.00" fill="#000" stroke="none"/>
<rect x="460.62" y="631.00" width="4.00" height="4.00" fill="#000" stroke="none"/>
<polyline points="326.00,620.62 334.53,620.62 343.05,626.81 360.16,626.81 394.31,668.80 462.62,695.76" fill="none" stroke-width="1.8" stroke-linejoin="round"/>
<rect x="324.00" y="618.62" width="4.00" height="4.00" fill="#000" stroke="none"/>
<rect x="332.53" y="618.62" width="4.00" height="4.00" fill="#000" stroke="none"/>
<rect x="341.05" y="624.81" width="4.00" height="4.00" fill="#000" stroke="none"/>
<rect x="358.16" y="624.81" width="4.00" height="4.00" fill="#000" stroke="none"/>
<rect x="392.31" y="666.80" width="4.00" height="4.00" fill="#000" stroke="none"/>
<rect x="460.62" y="693.76" width="4.00" height="4.00" fill="#000" stroke="none"/>
<polyline points="326.00,622.39 334.53,697.97 343.05,697.00 360.16,696.20 394.31,697.53 462.62,701.06" fill="none" stroke-width="1.8" stroke-linejoin="round"/>
<circle cx="326.00" cy="622.39" r="2.00"/>
<circle cx="334.53" cy="697.97" r="2.00"/>
<circle cx="343.05" cy="697.00" r="2.00"/>
<circle cx="360.16" cy="696.20" r="2.00"/>
<circle cx="394.31" cy="697.53" r="2.00"/>
<circle cx="462.62" cy="701.06" r="2.00"/>
<line x1="326.00" y1="613.55" x2="326.00" y2="627.52" stroke-width="1.1" stroke-linecap="butt"/>
<line x1="326.00" y1="613.55" x2="328.60" y2="613.55" stroke-width="1.3" stroke-linecap="butt"/>
<line x1="326.00" y1="627.52" x2="328.60" y2="627.52" stroke-width="1.3" stroke-linecap="butt"/>
<line x1="326.00" y1="616.02" x2="326.00" y2="623.01" stroke-width="1.1" stroke-linecap="butt"/>
<line x1="326.00" y1="616.02" x2="328.60" y2="616.02" stroke-width="1.3" stroke-linecap="butt"/>
<line x1="326.00" y1="623.01" x2="328.60" y2="623.01" stroke-width="1.3" stroke-linecap="butt"/>
<line x1="334.53" y1="613.55" x2="334.53" y2="625.04" stroke-width="1.1" stroke-linecap="butt"/>
<line x1="331.93" y1="613.55" x2="337.13" y2="613.55" stroke-width="1.3" stroke-linecap="butt"/>
<line x1="331.93" y1="625.04" x2="337.13" y2="625.04" stroke-width="1.3" stroke-linecap="butt"/>
<line x1="343.05" y1="612.66" x2="343.05" y2="631.23" stroke-width="1.1" stroke-linecap="butt"/>
<line x1="340.45" y1="612.66" x2="345.65" y2="612.66" stroke-width="1.3" stroke-linecap="butt"/>
<line x1="340.45" y1="631.23" x2="345.65" y2="631.23" stroke-width="1.3" stroke-linecap="butt"/>
<line x1="360.16" y1="609.13" x2="360.16" y2="619.74" stroke-width="1.1" stroke-linecap="butt"/>
<line x1="357.56" y1="609.13" x2="362.76" y2="609.13" stroke-width="1.3" stroke-linecap="butt"/>
<line x1="357.56" y1="619.74" x2="362.76" y2="619.74" stroke-width="1.3" stroke-linecap="butt"/>
<line x1="394.31" y1="666.59" x2="394.31" y2="671.01" stroke-width="1.1" stroke-linecap="butt"/>
<line x1="391.71" y1="666.59" x2="396.91" y2="666.59" stroke-width="1.3" stroke-linecap="butt"/>
<line x1="391.71" y1="671.01" x2="396.91" y2="671.01" stroke-width="1.3" stroke-linecap="butt"/>
<line x1="394.31" y1="617.97" x2="394.31" y2="621.50" stroke-width="1.1" stroke-linecap="butt"/>
<line x1="391.71" y1="617.97" x2="396.91" y2="617.97" stroke-width="1.3" stroke-linecap="butt"/>
<line x1="391.71" y1="621.50" x2="396.91" y2="621.50" stroke-width="1.3" stroke-linecap="butt"/>
<line x1="462.62" y1="693.99" x2="462.62" y2="697.53" stroke-width="1.1" stroke-linecap="butt"/>
<line x1="460.02" y1="693.99" x2="465.23" y2="693.99" stroke-width="1.3" stroke-linecap="butt"/>
<line x1="460.02" y1="697.53" x2="465.23" y2="697.53" stroke-width="1.3" stroke-linecap="butt"/>
<line x1="470.40" y1="612.90" x2="481.30" y2="612.90" stroke-width="1.3" stroke-linecap="butt"/>
<path d="M473.96,611.20 L478.04,611.20 L476.00,614.60Z"/>
<text stroke-width="0.35" transform="translate(484.57,617.00) scale(1.035,1)" font-size="12.32">MDP</text>
<line x1="470.40" y1="639.50" x2="481.30" y2="639.50" stroke-width="1.3" stroke-linecap="butt"/>
<rect x="474.30" y="637.80" width="3.40" height="3.40" fill="#000" stroke="none"/>
<text stroke-width="0.35" transform="translate(484.18,643.50) scale(1.085,1)" font-size="11.88">ADP</text>
<g stroke="#777" fill="#777">
<line x1="470.40" y1="665.10" x2="481.30" y2="665.10" stroke-width="1.3" stroke-linecap="butt"/>
<circle cx="476" cy="665.1" r="1.8" fill="#bbb" stroke-width="1"/></g>
<text stroke-width="0.35" transform="translate(484.04,669.40) scale(1.091,1)" font-size="12.17">DPOH</text>
<line x1="470.40" y1="691.00" x2="481.30" y2="691.00" stroke-width="1.3" stroke-linecap="butt"/>
<circle cx="476.00" cy="691.00" r="1.70"/>
<text stroke-width="0.35" transform="translate(485.80,695.50) scale(0.989,1)" font-size="12.61">CPX</text>
<text stroke-width="0.35" transform="translate(316.04,708.40) scale(1.051,1)" font-size="11.01">0</text>
<text stroke-width="0.35" transform="translate(309.81,686.30) scale(1.020,1)" font-size="11.01">25</text>
<text stroke-width="0.35" transform="translate(309.86,664.20) scale(1.030,1)" font-size="11.01">50</text>
<text stroke-width="0.35" transform="translate(309.69,642.10) scale(1.030,1)" font-size="11.01">75</text>
<text stroke-width="0.35" transform="translate(303.56,620.00) scale(1.030,1)" font-size="11.01">100</text>
<text stroke-width="0.35" transform="translate(303.57,597.90) scale(1.020,1)" font-size="11.01">125</text>
<text stroke-width="0.35" transform="translate(322.79,719.00) scale(1.038,1)" font-size="11.16">0</text>
<text stroke-width="0.35" transform="translate(377.57,719.00) scale(0.986,1)" font-size="11.16">5</text>
<text stroke-width="0.35" transform="translate(428.64,719.00) scale(1.052,1)" font-size="11.16">10</text>
<text stroke-width="0.35" transform="translate(483.30,719.00) scale(1.037,1)" font-size="11.16">15</text>
<text stroke-width="0.35" transform="translate(300.85,696.46) rotate(-90) scale(1.088,1)" font-size="11.66">viability (%)</text>
<text stroke-width="0.35" transform="translate(392.94,730.50) scale(1.121,1)" font-size="10.43">Drug (µM)</text></g></svg></body></html>
